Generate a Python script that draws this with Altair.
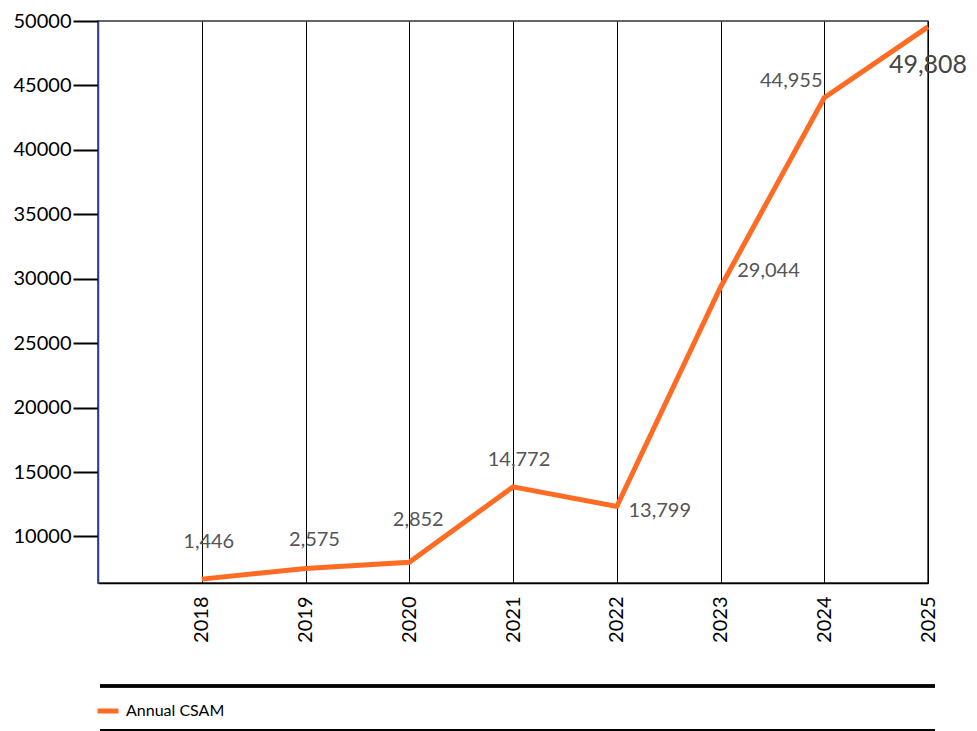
import altair as alt
import pandas as pd

# ---- data ----
years = [2018, 2019, 2020, 2021, 2022, 2023, 2024, 2025]
plotted = [6690, 7520, 8000, 13850, 12330, 29340, 44050, 49540]
labels = ["1,446", "2,575", "2,852", "14,772", "13,799", "29,044", "44,955", "49,808"]
series = "Annual CSAM"
y_ticks = [10000, 15000, 20000, 25000, 30000, 35000, 40000, 45000, 50000]

df = pd.DataFrame({"year": years, "value": plotted, "label": labels, "series": series})

# ---- style ----
ORANGE = "#FF6B22"
FONT = "Lato"
W, H = 830, 562
# per-label pixel offsets (dx, dy, size, color)
label_style = [
    (7, -37, 20, "#555555"),
    (9, -28, 20, "#555555"),
    (9, -42, 20, "#555555"),
    (6, -27, 20, "#555555"),
    (43, 5, 20, "#555555"),
    (48, -16, 20, "#555555"),
    (-33, -17, 20, "#555555"),
    (0, 38, 25, "#444444"),
]

x_enc = alt.X("year:Q", scale=alt.Scale(domain=[2017, 2025], nice=False),
              axis=alt.Axis(values=years, format="d", title=None, grid=True,
                            gridColor="black", gridWidth=1, ticks=False,
                            labelAngle=270, labelPadding=13, labelFontSize=20,
                            labelColor="black", domainColor="black", domainWidth=1.5))
y_enc = alt.Y("value:Q", scale=alt.Scale(domain=[6390, 50000], nice=False, zero=False),
              axis=alt.Axis(values=y_ticks, format="d", title=None, grid=False,
                            tickSize=25, tickWidth=2, tickColor="black",
                            labelPadding=2, labelFontSize=20, labelColor="black",
                            domainColor="#2E3F91", domainWidth=1.5))

line = alt.Chart(df).mark_line(strokeWidth=5, strokeJoin="miter").encode(
    x=x_enc, y=y_enc,
    color=alt.Color("series:N", scale=alt.Scale(range=[ORANGE]),
                    legend=alt.Legend(title=None, orient="none", legendX=-3, legendY=677,
                                      symbolType="stroke", symbolSize=441,
                                      symbolStrokeWidth=5, labelFontSize=16,
                                      labelColor="black", labelOffset=5, padding=0,
                                      labelFont=FONT)),
)

text_layers = []
for i, (dx, dy, size, col) in enumerate(label_style):
    text_layers.append(
        alt.Chart(df).transform_filter(alt.datum.year == years[i]).mark_text(
            dx=dx, dy=dy, fontSize=size, color=col, font=FONT, align="center", baseline="middle"
        ).encode(x="year:Q", y="value:Q", text="label:N")
    )

rule_top = alt.Chart(df).mark_rule(color="black", strokeWidth=2.5).encode(
    x=alt.value(2), x2=alt.value(837), y=alt.value(665))
rule_bot = alt.Chart(df).mark_rule(color="black", strokeWidth=1).encode(
    x=alt.value(2), x2=alt.value(837), y=alt.value(709))

chart = alt.layer(line, *text_layers, rule_top, rule_bot).properties(
    width=W, height=H,
    autosize=alt.AutoSizeParams(type="none"),
    padding={"left": 90, "top": 13, "right": 41, "bottom": 148},
).configure(font=FONT).configure_view(stroke="#333333", strokeWidth=1.5)

chart.save("out.html", embed_options={"renderer": "svg", "actions": False})
